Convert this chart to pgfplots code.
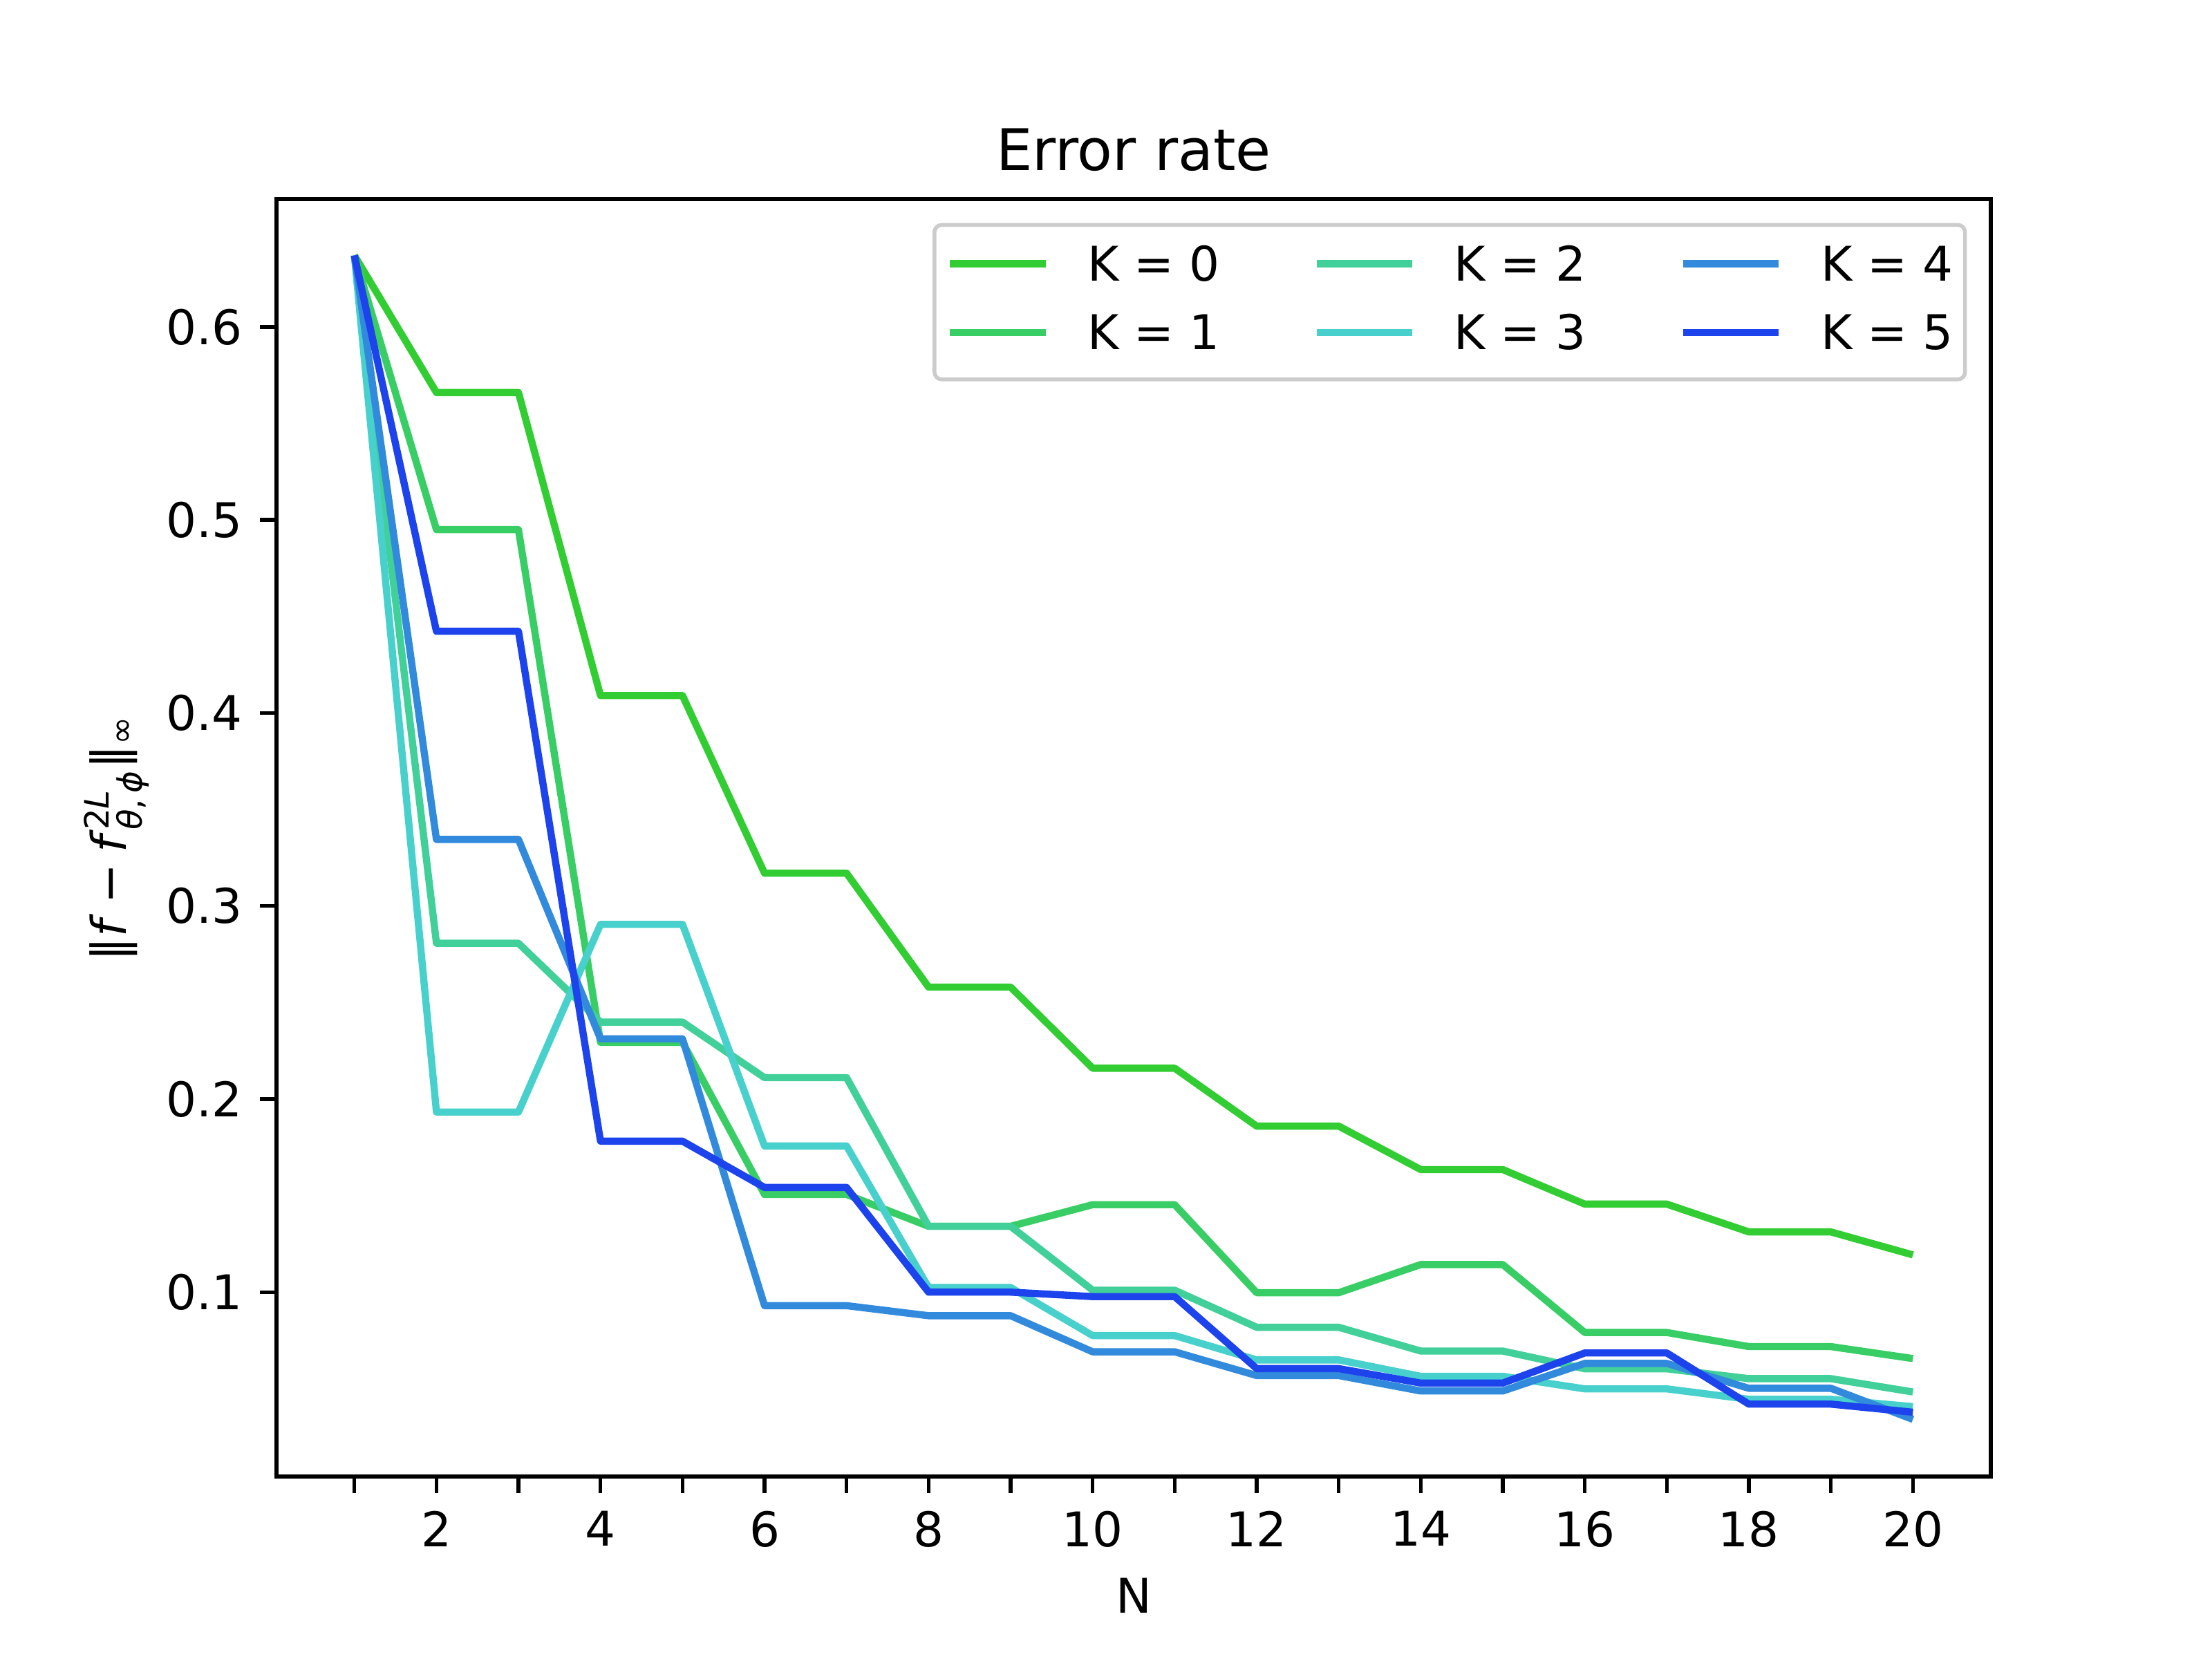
\documentclass[border=0pt]{standalone}
\usepackage{fontspec}
\setmainfont{DejaVu Sans}
\usepackage{amsmath}
\usepackage{pgfplots}
\pgfplotsset{compat=1.18}

\definecolor{k0}{RGB}{50,205,50}
\definecolor{k1}{RGB}{57,206,101}
\definecolor{k2}{RGB}{65,208,153}
\definecolor{k3}{RGB}{72,209,204}
\definecolor{k4}{RGB}{50,138,220}
\definecolor{k5}{RGB}{28,67,236}

\pgfplotstableread{
N  k0     k1     k2     k3     k4     k5
1  0.637  0.637  0.637  0.637  0.637  0.637
2  0.566  0.495  0.2807 0.1933 0.3345 0.4423
3  0.566  0.495  0.2807 0.1933 0.3345 0.4423
4  0.409  0.2294 0.2399 0.2905 0.2312 0.1782
5  0.409  0.2294 0.2399 0.2905 0.2312 0.1782
6  0.317  0.1506 0.2111 0.1757 0.0930 0.1542
7  0.317  0.1506 0.2111 0.1757 0.0930 0.1542
8  0.258  0.1341 0.1341 0.1024 0.0878 0.1000
9  0.258  0.1341 0.1341 0.1024 0.0878 0.1000
10 0.216  0.1453 0.1010 0.0775 0.0691 0.0977
11 0.216  0.1453 0.1010 0.0775 0.0691 0.0977
12 0.186  0.0997 0.0818 0.0649 0.0568 0.0604
13 0.186  0.0997 0.0818 0.0649 0.0568 0.0604
14 0.1635 0.1143 0.0695 0.0564 0.0488 0.0529
15 0.1635 0.1143 0.0695 0.0564 0.0488 0.0529
16 0.1456 0.0791 0.0603 0.0499 0.0631 0.0685
17 0.1456 0.0791 0.0603 0.0499 0.0631 0.0685
18 0.1312 0.0718 0.0552 0.0445 0.0502 0.0420
19 0.1312 0.0718 0.0552 0.0445 0.0502 0.0420
20 0.1193 0.0656 0.0483 0.0407 0.0341 0.0378
}\errdata

\newcommand{\ylab}{‖\textit{f}\hspace{0.22em}−\hspace{0.22em}\textit{f}$^{\text{2\textit{L}}}_{\text{\textit{θ},\,\textit{ϕ}}}$‖$_{\text{∞}}$}

\begin{document}
\begin{tikzpicture}
\path[use as bounding box] (-0.8in,-0.528in) rectangle (5.6in,4.272in);
\begin{axis}[
    at={(0,0)}, anchor=south west,
    scale only axis, width=4.96in, height=3.696in,
    xmin=0.05, xmax=20.95, ymin=0.0045, ymax=0.6662,
    xtick={1,...,20},
    xticklabels={,2,,4,,6,,8,,10,,12,,14,,16,,18,,20},
    ytick={0.1,0.2,0.3,0.4,0.5,0.6},
    yticklabels={0.1,0.2,0.3,0.4,0.5,0.6},
    /pgf/number format/assume math mode=true,
    tick align=outside, xtick pos=bottom, ytick pos=left,
    major tick length=3.5pt,
    every tick/.style={black, line width=0.8pt},
    axis line style={line width=0.8pt},
    xticklabel style={inner sep=0pt, anchor=north, yshift=-3.5pt},
    yticklabel style={inner sep=0pt, anchor=east, xshift=-3.5pt},
    title={Error rate},
    every axis title shift=0pt,
    title style={at={(axis description cs:0.5,1)}, anchor=base, yshift=6pt, inner sep=0pt, font=\fontsize{12}{14.4}\selectfont},
    xlabel={N},
    xlabel style={at={(axis description cs:0.5,0)}, anchor=north, yshift=-21pt, inner sep=0pt},
    ylabel={\ylab},
    ylabel style={at={(axis description cs:-0.0738,0.5)}, anchor=south, inner sep=0pt},
    legend columns=3,
    legend style={at={(axis description cs:1,1)}, anchor=north east, xshift=-5pt, yshift=-5pt,
        draw=black!20, line width=0.8pt, rounded corners=1.5pt, fill=white, fill opacity=0.8,
        draw opacity=1, text opacity=1, inner xsep=2.5pt, inner ysep=4.2pt, row sep=4.9pt,
        nodes={inner sep=0pt, text height=7.5pt, text depth=2pt, anchor=base west},
        /tikz/every odd column/.append style={column sep=8pt},
        /tikz/every even column/.append style={column sep=19.5pt}},
    legend image code/.code={\draw[#1] (0pt,3.6pt) -- (20pt,3.6pt);},
]
% legend in matplotlib's column-first order
\addlegendimage{color=k0, line width=1.5pt}
\addlegendentry{K = 0}
\addlegendimage{color=k2, line width=1.5pt}
\addlegendentry{K = 2}
\addlegendimage{color=k4, line width=1.5pt}
\addlegendentry{K = 4}
\addlegendimage{color=k1, line width=1.5pt}
\addlegendentry{K = 1}
\addlegendimage{color=k3, line width=1.5pt}
\addlegendentry{K = 3}
\addlegendimage{color=k5, line width=1.5pt}
\addlegendentry{K = 5}

\addplot[color=k0, line width=1.5pt, line join=round, forget plot] table[x=N, y=k0] {\errdata};
\addplot[color=k1, line width=1.5pt, line join=round, forget plot] table[x=N, y=k1] {\errdata};
\addplot[color=k2, line width=1.5pt, line join=round, forget plot] table[x=N, y=k2] {\errdata};
\addplot[color=k3, line width=1.5pt, line join=round, forget plot] table[x=N, y=k3] {\errdata};
\addplot[color=k4, line width=1.5pt, line join=round, forget plot] table[x=N, y=k4] {\errdata};
\addplot[color=k5, line width=1.5pt, line join=round, forget plot] table[x=N, y=k5] {\errdata};
\end{axis}
\end{tikzpicture}
\end{document}
